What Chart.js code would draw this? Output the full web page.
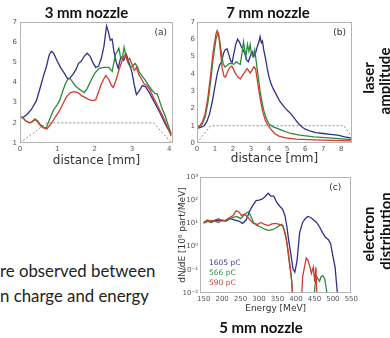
<!DOCTYPE html>
<html>
<head>
<meta charset="utf-8">
<script src="https://cdn.jsdelivr.net/npm/chart.js@4.4.1/dist/chart.umd.min.js"></script>
<style>
  html, body { margin: 0; padding: 0; background: #fff; }
  #page { position: relative; width: 390px; height: 338px; overflow: hidden; font-family: Lato, sans-serif; }
  .box { position: absolute; }
  .side { position: absolute; font-weight: bold; font-size: 15px; line-height: 1; color: #111; white-space: nowrap; transform: translate(-50%, -50%) rotate(-90deg); }
  .body { position: absolute; left: 0; font-size: 16.8px; line-height: 1; color: #222; white-space: nowrap; }
</style>
</head>
<body>
<div id="page">
  <div class="box" style="left:0;top:0;width:180px;height:171px"><canvas id="chartA"></canvas></div>
  <div class="box" style="left:184px;top:0;width:180px;height:171px"><canvas id="chartB"></canvas></div>
  <div class="box" style="left:170px;top:170px;width:190px;height:168px"><canvas id="chartC"></canvas></div>

  <div class="side" style="left:368px;top:78px">laser</div>
  <div class="side" style="left:384px;top:81px">amplitude</div>
  <div class="side" style="left:368px;top:234px">electron</div>
  <div class="side" style="left:385px;top:231px">distribution</div>

  <div class="body" style="top:263px">re observed between</div>
  <div class="body" style="top:288px">n charge and energy</div>
</div>

<script>
// (a) 3 mm nozzle: laser amplitude vs distance [mm]
const aBlue = [[0,2.25],[0.1,2.3],[0.18,2.4],[0.3,2.65],[0.44,3.1],[0.55,3.8],[0.64,4.4],[0.71,4.8],[0.78,5.35],[0.84,5.55],
  [0.9,5.45],[1.0,5.05],[1.1,4.7],[1.19,4.45],[1.27,4.2],[1.33,4.2],[1.42,4.4],[1.5,4.65],[1.57,4.95],[1.64,5.05],
  [1.72,5.3],[1.8,5.45],[1.88,5.3],[1.95,5.0],[2.03,4.75],[2.1,4.8],[2.18,5.2],[2.25,5.8],[2.32,6.8],[2.37,6.5],
  [2.42,6.1],[2.47,6.15],[2.52,5.5],[2.58,5.0],[2.63,4.7],[2.7,5.25],[2.78,5.1],[2.85,5.4],[2.92,5.0],[3.0,4.5],
  [3.06,3.9],[3.12,3.4],[3.2,3.6],[3.28,3.85],[3.36,3.8],[3.45,3.55],[3.55,3.2],[3.65,2.85],[3.75,2.5],[3.85,2.1],
  [3.95,1.75],[4.05,1.45]];
const aGreen = [[0,2.3],[0.08,2.25],[0.15,2.1],[0.25,2.0],[0.32,2.05],[0.4,2.2],[0.47,2.1],[0.55,1.9],[0.63,1.78],[0.7,1.75],
  [0.8,2.2],[0.9,2.65],[1.0,2.9],[1.06,3.1],[1.15,3.6],[1.22,3.95],[1.28,4.15],[1.34,4.2],[1.42,4.0],[1.5,3.8],
  [1.6,3.65],[1.72,3.5],[1.8,3.7],[1.9,4.1],[2.0,4.45],[2.12,4.7],[2.25,4.75],[2.38,4.75],[2.47,4.55],[2.56,5.4],
  [2.61,5.55],[2.65,5.7],[2.7,5.2],[2.75,5.3],[2.79,5.75],[2.84,5.3],[2.9,4.95],[2.96,4.75],[3.02,4.8],[3.08,4.95],
  [3.14,4.8],[3.2,4.5],[3.28,4.3],[3.36,4.1],[3.45,3.85],[3.54,3.6],[3.62,3.45],[3.67,3.45],[3.72,3.2],[3.8,2.75],
  [3.88,2.4],[3.96,1.95],[4.05,1.45]];
const aRed = [[0,2.3],[0.08,2.25],[0.15,2.1],[0.25,2.0],[0.32,2.05],[0.4,2.15],[0.47,2.05],[0.55,1.85],[0.63,1.75],[0.72,1.7],
  [0.85,2.0],[0.95,2.3],[1.06,2.6],[1.15,2.95],[1.25,3.3],[1.35,3.5],[1.45,3.55],[1.55,3.5],[1.65,3.35],[1.75,3.25],
  [1.85,3.15],[1.95,3.1],[2.03,3.15],[2.1,3.5],[2.17,3.9],[2.24,4.15],[2.3,4.35],[2.38,4.15],[2.45,3.85],[2.5,3.75],
  [2.57,4.1],[2.65,4.6],[2.72,5.0],[2.78,5.3],[2.83,5.4],[2.88,5.05],[2.94,5.2],[3.0,4.9],[3.06,4.6],[3.12,4.75],
  [3.18,4.4],[3.25,4.2],[3.32,3.95],[3.4,3.85],[3.48,3.65],[3.55,3.35],[3.62,3.1],[3.7,2.8],[3.78,2.5],[3.86,2.2],
  [3.94,1.85],[4.05,1.35]];
const aGuide = [[0,1],[0.72,2],[3.58,2],[4.06,1]];
const aDistTicks = [0, 1, 2, 3, 4];
const aAmpTicks = [1, 2, 3, 4, 5, 6, 7];

// (b) 7 mm nozzle
const bBlue = [[0,0.85],[0.2,0.9],[0.4,1.0],[0.55,1.25],[0.7,1.7],[0.85,2.4],[1.0,3.3],[1.12,4.0],[1.25,4.5],[1.37,4.7],
  [1.47,5.2],[1.57,5.4],[1.67,5.45],[1.77,5.1],[1.87,4.75],[1.95,4.65],[2.05,5.2],[2.15,5.7],[2.25,6.0],[2.35,5.85],
  [2.45,5.6],[2.55,5.4],[2.65,5.2],[2.75,4.8],[2.85,4.7],[2.95,5.0],[3.05,5.3],[3.15,5.0],[3.25,5.2],[3.35,5.6],
  [3.45,5.9],[3.5,6.15],[3.57,5.8],[3.63,5.9],[3.7,5.4],[3.8,4.9],[3.9,4.3],[4.0,3.8],[4.1,3.45],[4.2,3.2],
  [4.3,3.0],[4.45,2.7],[4.6,2.4],[4.75,2.2],[4.9,2.0],[5.05,1.85],[5.2,1.7],[5.35,1.5],[5.5,1.3],[5.65,1.1],
  [5.8,0.95],[6.0,0.8],[6.3,0.68],[6.6,0.6],[7.0,0.55],[7.4,0.5],[7.8,0.45],[8.2,0.35],[8.6,0.28]];
const bGreen = [[0,0.9],[0.15,0.95],[0.3,1.1],[0.45,1.5],[0.6,2.3],[0.75,3.5],[0.9,4.9],[1.05,6.0],[1.15,6.35],[1.25,6.0],
  [1.35,5.2],[1.45,4.6],[1.55,4.4],[1.68,4.5],[1.8,4.6],[1.93,4.6],[2.05,4.55],[2.18,4.7],[2.3,4.6],[2.4,4.55],
  [2.5,5.2],[2.58,5.85],[2.65,5.4],[2.72,5.0],[2.8,5.7],[2.88,5.3],[2.95,5.7],[3.02,5.2],[3.1,5.0],[3.2,5.4],
  [3.3,4.6],[3.4,3.8],[3.5,3.0],[3.6,2.4],[3.7,1.9],[3.85,1.4],[4.0,1.1],[4.2,0.95],[4.45,0.85],[4.8,0.7],
  [5.2,0.55],[5.7,0.45],[6.5,0.35],[7.5,0.28],[8.6,0.2]];
const bRed = [[0,0.95],[0.15,1.0],[0.3,1.2],[0.45,1.7],[0.6,2.6],[0.75,3.9],[0.9,5.3],[1.05,6.3],[1.12,6.5],[1.2,6.3],
  [1.3,5.3],[1.4,4.3],[1.5,3.85],[1.58,3.8],[1.68,4.1],[1.8,4.35],[1.93,4.45],[2.05,4.2],[2.15,4.0],[2.28,3.8],
  [2.4,3.7],[2.52,3.9],[2.65,4.1],[2.78,4.3],[2.86,4.2],[2.95,4.05],[3.05,4.2],[3.15,4.4],[3.25,4.3],[3.35,3.6],
  [3.45,2.9],[3.55,2.3],[3.65,1.8],[3.78,1.35],[3.92,1.05],[4.1,0.8],[4.3,0.55],[4.55,0.4],[4.9,0.3],[5.5,0.22],
  [6.5,0.18],[7.5,0.15],[8.6,0.12]];
const bGuide = [[0,0],[0.75,1],[8.15,1],[8.6,0.35]];
const bDistTicks = [0, 1, 2, 3, 4, 5, 6, 7, 8];
const bAmpTicks = [0, 1, 2, 3, 4, 5, 6, 7];

// (c) 5 mm nozzle: dN/dE vs energy [MeV]
const cLabels = ['1605 pC', '566 pC', '590 pC'];
const cBlue = [[150,11],[165,12.6],[180,13],[195,14],[210,12.6],[222,16],[235,14],[245,12.6],[255,10],[265,14],
  [275,35],[283,60],[292,95],[300,100],[308,110],[316,140],[325,200],[332,150],[340,150],[348,80],
  [356,55],[364,40],[370,22],[375,8],[380,2],[386,0.5],[392,0.11],[397,0.08],[403,0.25],[410,4],
  [418,11],[425,16],[432,20],[440,18],[448,14],[456,11],[464,7],[472,4],[480,2.5],[488,2],
  [494,1.3],[500,0.4],[506,0.13],[511,0.016],[514,0.005]];
const cGreen = [[150,10],[160,12.6],[170,11],[180,12.6],[190,11],[200,14],[210,12.6],[220,16],[230,18],[240,20],
  [250,16],[258,22],[266,28],[272,32],[278,20],[285,11],[295,8],[305,7],[315,5.6],[325,5],
  [335,5.2],[345,6.3],[355,8],[362,9],[368,5],[375,1.6],[382,0.2],[388,0.04],[392,0.005],[448,0.005],
  [452,0.025],[456,0.05],[460,0.04],[464,0.032],[468,0.05],[473,0.056],[478,0.04],[482,0.016],[486,0.005]];
const cRed = [[150,11],[160,14],[170,12.6],[180,14],[190,16],[200,12.6],[210,14],[220,18],[230,22],[238,35],
  [245,32],[252,22],[260,25],[268,20],[276,14],[285,10],[295,9],[305,11],[315,9],[325,8],
  [335,9.5],[345,10],[355,9],[365,8],[372,3.2],[380,0.5],[387,0.06],[392,0.005],[415,0.005],[418,0.05],
  [423,0.13],[428,0.32],[433,0.25],[438,0.13],[442,0.07],[447,0.13],[451,0.03],[454,0.13],[457,0.005]];
const cEnergyTicks = [150, 200, 250, 300, 350, 400, 450, 500, 550];
const cPowerTicks = [0.01, 0.1, 1, 10, 100, 1000];

const BLUE = '#2f2f8c';
const GREEN = '#2b8a3b';
const RED = '#d23c30';
const GUIDE = '#8c8c8c';
const INK = '#333';

const tickStyle = { color: '#555', font: { family: 'DejaVu Sans', size: 7 }, autoSkip: false, maxRotation: 0, padding: 2 };
const noGrid = { display: false, drawTicks: false };

const SUP = { '-': '\u207b', '0': '\u2070', '1': '\u00b9', '2': '\u00b2', '3': '\u00b3', '4': '\u2074', '5': '\u2075', '6': '\u2076', '7': '\u2077', '8': '\u2078', '9': '\u2079' };
function power(v) {
  const e = String(Math.round(Math.log10(v)));
  return '10' + e.split('').map(c => SUP[c]).join('');
}

function fixedTicks(values) {
  return scale => { scale.ticks = values.map(v => ({ value: v })); };
}

function series(points, color, dashed) {
  return {
    data: points.map(p => ({ x: p[0], y: p[1] })),
    borderColor: color,
    borderWidth: dashed ? 1 : 1.3,
    borderDash: dashed ? [2, 2] : [],
    pointRadius: 0,
    tension: 0,
    fill: false
  };
}

// box around the plot area, like the matplotlib spines
const framePlugin = {
  id: 'frame',
  afterDatasetsDraw(chart) {
    const { ctx, chartArea: a } = chart;
    ctx.save();
    ctx.strokeStyle = '#b4b4b4';
    ctx.lineWidth = 1;
    ctx.strokeRect(Math.round(a.left) + 0.5, Math.round(a.top) + 0.5, Math.round(a.right - a.left) - 1, Math.round(a.bottom - a.top) - 1);
    ctx.restore();
  }
};

// "(a)", "(b)", "(c)" in the upper right corner
const tagPlugin = {
  id: 'tag',
  afterDraw(chart, args, opts) {
    if (!opts.text) return;
    const { ctx, chartArea: a } = chart;
    ctx.save();
    ctx.font = '9px "DejaVu Sans"';
    ctx.fillStyle = INK;
    ctx.textAlign = 'right';
    ctx.textBaseline = 'middle';
    ctx.fillText(opts.text, a.right - opts.dx, a.top + opts.dy);
    ctx.restore();
  }
};

// coloured charge labels written inside panel (c)
const inlineLegend = {
  id: 'inlineLegend',
  afterDatasetsDraw(chart, args, opts) {
    if (!opts.items) return;
    const { ctx, chartArea: a } = chart;
    ctx.save();
    ctx.font = '7.5px "DejaVu Sans"';
    ctx.textBaseline = 'middle';
    opts.items.forEach((it, i) => {
      ctx.fillStyle = it.color;
      ctx.fillText(it.text, a.left + 9, a.bottom - 30 + i * 10);
    });
    ctx.restore();
  }
};

function amplitudeChart(id, cfg) {
  return new Chart(document.getElementById(id), {
    type: 'line',
    data: {
      datasets: [series(cfg.red, RED), series(cfg.green, GREEN), series(cfg.blue, BLUE), series(cfg.guide, GUIDE, true)]
    },
    options: {
      responsive: true,
      maintainAspectRatio: false,
      animation: false,
      layout: { padding: { left: 0, right: cfg.padRight, top: 0, bottom: 0 } },
      plugins: {
        legend: { display: false },
        tooltip: { enabled: false },
        title: {
          display: true, text: cfg.title, color: '#111',
          font: { family: 'Lato', weight: 'bold', size: 15, lineHeight: 1.2 },
          padding: { top: 4, bottom: 0 }
        },
        tag: { text: cfg.tag, dx: 6, dy: 11 }
      },
      scales: {
        x: {
          type: 'linear', min: cfg.xMin, max: cfg.xMax,
          grid: noGrid, border: { display: false },
          ticks: tickStyle,
          afterBuildTicks: fixedTicks(cfg.xTicks),
          afterFit: s => { s.height = 28; },
          title: {
            display: true, text: 'distance [mm]', color: INK,
            font: { family: 'DejaVu Sans', size: 12, lineHeight: 1.2 },
            padding: { top: 0, bottom: cfg.titlePad }
          }
        },
        y: {
          type: 'linear', min: cfg.yMin, max: cfg.yMax,
          grid: noGrid, border: { display: false },
          ticks: Object.assign({}, tickStyle, { padding: cfg.yPad }),
          afterBuildTicks: fixedTicks(cfg.yTicks),
          afterFit: s => { s.width = cfg.yWidth; }
        }
      }
    },
    plugins: [framePlugin, tagPlugin]
  });
}

amplitudeChart('chartA', {
  title: '3 mm nozzle', tag: '(a)',
  red: aRed, green: aGreen, blue: aBlue, guide: aGuide,
  xMin: 0, xMax: 4.1, xTicks: aDistTicks,
  yMin: 1, yMax: 7, yTicks: aAmpTicks,
  padRight: 7, yWidth: 20, yPad: 3, titlePad: 3
});

amplitudeChart('chartB', {
  title: '7 mm nozzle', tag: '(b)',
  red: bRed, green: bGreen, blue: bBlue, guide: bGuide,
  xMin: 0, xMax: 8.6, xTicks: bDistTicks,
  yMin: 0, yMax: 7, yTicks: bAmpTicks,
  padRight: 12, yWidth: 13, yPad: 2, titlePad: 5
});

new Chart(document.getElementById('chartC'), {
  type: 'line',
  data: {
    datasets: [
      Object.assign(series(cRed, RED), { label: cLabels[2] }),
      Object.assign(series(cGreen, GREEN), { label: cLabels[1] }),
      Object.assign(series(cBlue, BLUE), { label: cLabels[0] })
    ]
  },
  options: {
    responsive: true,
    maintainAspectRatio: false,
    animation: false,
    layout: { padding: { left: 0, right: 8, top: 7, bottom: 0 } },
    plugins: {
      legend: { display: false },
      tooltip: { enabled: false },
      title: {
        display: true, position: 'bottom', text: '5 mm nozzle', color: '#111',
        font: { family: 'Lato', weight: 'bold', size: 15, lineHeight: 1.2 },
        padding: { top: 0, bottom: 1 }
      },
      tag: { text: '(c)', dx: 10, dy: 11 },
      inlineLegend: {
        items: [
          { text: cLabels[0], color: '#3b3ba0' },
          { text: cLabels[1], color: '#2e9040' },
          { text: cLabels[2], color: '#d04040' }
        ]
      }
    },
    scales: {
      x: {
        type: 'linear', min: 140, max: 550,
        grid: noGrid, border: { display: false },
        ticks: tickStyle,
        afterBuildTicks: fixedTicks(cEnergyTicks),
        afterFit: s => { s.height = 26; },
        title: {
          display: true, text: 'Energy [MeV]', color: INK,
          font: { family: 'DejaVu Sans', size: 9, lineHeight: 1.2 },
          padding: { top: 0, bottom: 4.6 }
        }
      },
      y: {
        type: 'logarithmic', min: 0.01, max: 1000,
        grid: noGrid, border: { display: false },
        ticks: Object.assign({}, tickStyle, { padding: 2, callback: v => power(v) }),
        afterBuildTicks: fixedTicks(cPowerTicks),
        afterFit: s => { s.width = 30; },
        title: {
          display: true, text: 'dN/dE [10\u2076 part/MeV]', color: INK,
          font: { family: 'DejaVu Sans', size: 9, lineHeight: 1.2 },
          padding: { top: 7.6, bottom: 0 }
        }
      }
    }
  },
  plugins: [framePlugin, tagPlugin, inlineLegend]
});
</script>
</body>
</html>
